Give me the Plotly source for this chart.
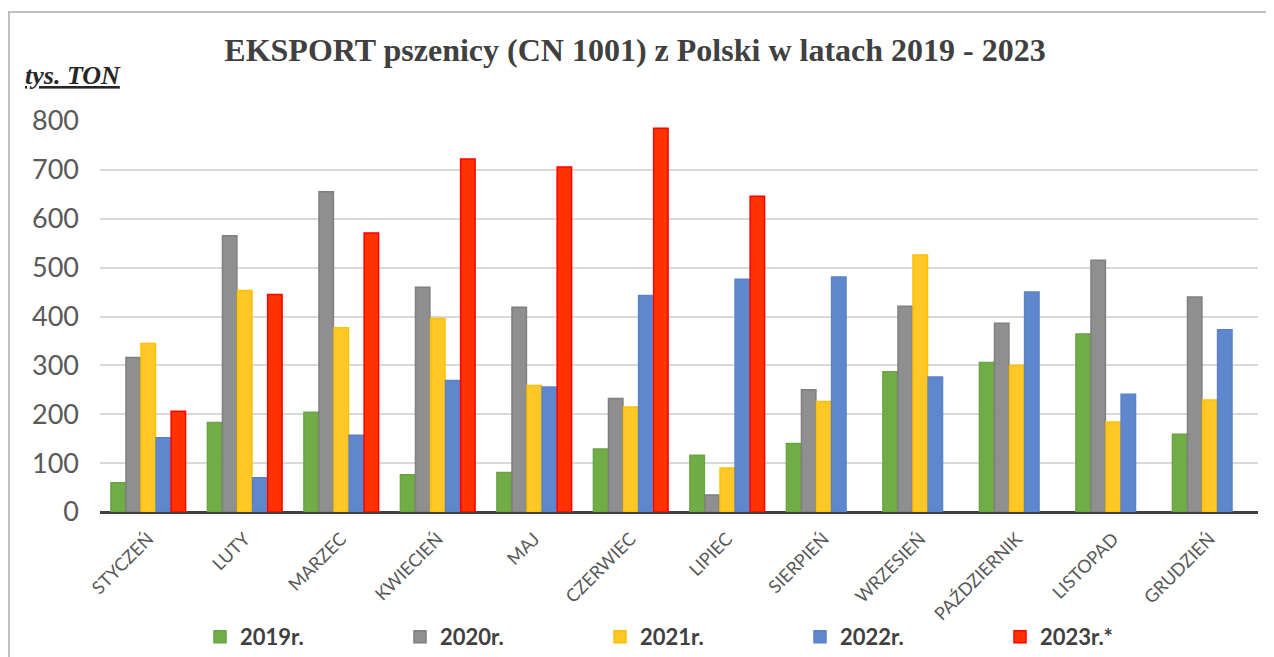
import plotly.graph_objects as go

# miesiące i eksport w tys. ton
miesiace = ["STYCZEŃ", "LUTY", "MARZEC", "KWIECIEŃ", "MAJ", "CZERWIEC",
            "LIPIEC", "SIERPIEŃ", "WRZESIEŃ", "PAŹDZIERNIK", "LISTOPAD", "GRUDZIEŃ"]
r2019 = [60, 183, 204, 76, 81, 129, 116, 140, 287, 306, 364, 159]
r2020 = [316, 565, 655, 460, 419, 232, 35, 250, 421, 386, 515, 440]
r2021 = [345, 453, 377, 396, 259, 215, 90, 226, 526, 300, 184, 229]
r2022 = [152, 70, 157, 269, 256, 443, 476, 481, 276, 450, 241, 373]
r2023 = [206, 445, 571, 722, 706, 785, 646, None, None, None, None, None]

serie = [
    ("2019r.", r2019, "#70AD47", "#6AA342"),
    ("2020r.", r2020, "#8F8F8F", "#7F7F7F"),
    ("2021r.", r2021, "#FFC826", "#FFC000"),
    ("2022r.", r2022, "#5F87CE", "#5B82C8"),
    ("2023r.*", r2023, "#FF3300", "#FF0000"),
]

fig = go.Figure()
for nazwa, wartosci, kolor, obrys in serie:
    fig.add_trace(go.Bar(
        x=miesiace, y=wartosci, name="<b>" + nazwa + "</b>",
        marker=dict(color=kolor, line=dict(color=obrys, width=1.5)),
    ))

# strona ma 8px marginesu, wiec figura jest przesunieta
OFF = 8
W, H = 1274 - OFF, 657 - OFF
L, T = 100 - OFF, 121 - OFF
R = W - (1258 - OFF)
B = H - (512 - OFF)
pw, ph = W - L - R, H - T - B

def px_x(x):
    return (x - OFF - L) / pw

def px_y(y):
    return (H - B - (y - OFF)) / ph

fig.update_layout(
    width=W, height=H,
    margin=dict(l=L, r=R, t=T, b=B, autoexpand=False),
    paper_bgcolor="white", plot_bgcolor="white",
    barmode="group", bargap=0.22, bargroupgap=0.04,
    title=dict(
        text="<b>EKSPORT pszenicy (CN 1001) z Polski w latach 2019 - 2023</b>",
        x=(635 - OFF) / W, xanchor="center", y=1 - (50 - OFF) / H, yanchor="middle",
        font=dict(family="Liberation Serif", size=32, color="#404040"),
    ),
    font=dict(family="Lato", color="#595959"),
    xaxis=dict(
        tickangle=-45, tickfont=dict(size=18, color="#595959"),
        showgrid=False, showline=False, ticks="", automargin=False,
        ticklabelstandoff=12,
    ),
    yaxis=dict(
        range=[0, 800], dtick=100, tickfont=dict(size=27, color="#595959"),
        showgrid=True, gridcolor="#D9D9D9", gridwidth=2,
        zeroline=True, zerolinecolor="#404040", zerolinewidth=3,
        ticks="", ticklabelstandoff=20, automargin=False,
    ),
    legend=dict(
        orientation="h", x=px_x(200), xanchor="left",
        y=px_y(637), yanchor="middle",
        entrywidth=155, entrywidthmode="pixels",
        font=dict(size=22, color="#404040", family="Lato"),
        bgcolor="rgba(0,0,0,0)", itemclick=False,
    ),
    showlegend=True,
)

# napis jednostki
fig.add_annotation(
    text="<b><i><u>tys. TON</u></i></b>", xref="paper", yref="paper",
    x=px_x(23), y=px_y(75), xanchor="left", yanchor="middle",
    showarrow=False, font=dict(family="Liberation Serif", size=26, color="#262626"),
)

# ramka wykresu
fig.add_shape(
    type="rect", xref="paper", yref="paper",
    x0=px_x(OFF + 1), x1=px_x(1290), y0=px_y(12), y1=px_y(670),
    line=dict(color="#BFBFBF", width=2), layer="below",
)

fig.write_html("out.html")
